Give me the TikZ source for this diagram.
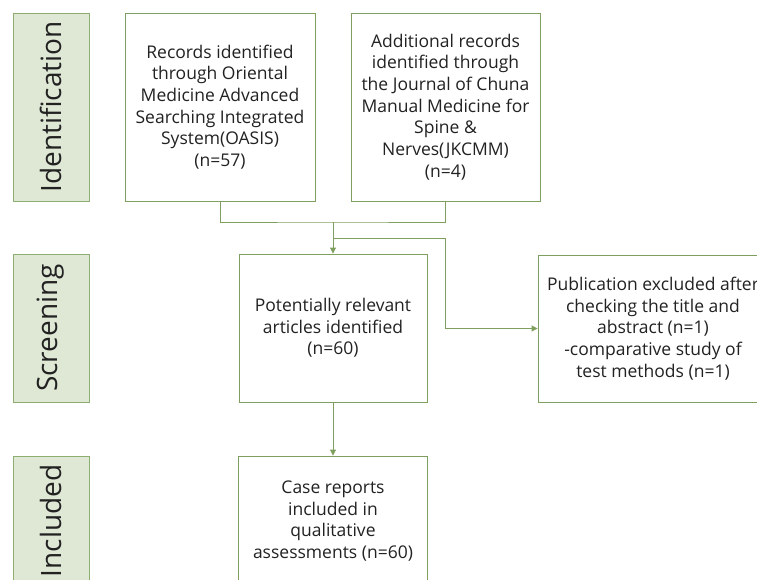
\documentclass[tikz,border=0pt]{standalone}
\usepackage{fontspec}
\setmainfont{Open Sans}
\usetikzlibrary{arrows.meta}
\definecolor{edge}{HTML}{7E9F5E}
\definecolor{sidefill}{HTML}{DFE8D5}
\definecolor{sideedge}{HTML}{8DAE70}
\definecolor{txt}{HTML}{222222}
\tikzset{
  flowbox/.style={draw=edge, line width=0.9pt, fill=white, align=center, text=txt,
    font=\fontsize{17.5}{21.7}\selectfont, inner sep=0pt},
  sidebox/.style={draw=sideedge, line width=0.9pt, fill=sidefill},
  sidetext/.style={rotate=90, text=txt, font=\fontsize{28}{30}\selectfont, inner sep=0pt},
  conn/.style={draw=edge, line width=0.9pt},
  tip/.style={-{Triangle[width=6pt,length=6pt]}}
}
\begin{document}
\begin{tikzpicture}[x=1pt,y=-1pt]
\useasboundingbox (0,0) rectangle (757,580);
\clip (0,0) rectangle (757,580);
\fill[white] (0,0) rectangle (757,580);
% side labels
\node[sidebox, minimum width=76pt, minimum height=188pt] (s1) at (51,107) {};
\node[sidetext] (t1) at (s1.center) {Identification};
\node[sidebox, minimum width=76pt, minimum height=148pt] (s2) at (51,328) {};
\node[sidetext] (t2) at (s2.center) {Screening};
\node[sidebox, minimum width=76pt, minimum height=130pt] (s3) at (51,521) {};
\node[sidetext] (t3) at (s3.center) {Included};
% flow boxes
\node[flowbox, minimum width=190pt, minimum height=188pt] (b1) at (220,107)
  {Records identified\\through Oriental\\Medicine Advanced\\Searching Integrated\\System(OASIS)\\(n=57)};
\node[flowbox, minimum width=189pt, minimum height=188pt] (b2) at (445.5,107)
  {Additional records\\identified through\\the Journal of Chuna\\Manual Medicine for\\Spine \&\\Nerves(JKCMM)\\(n=4)};
\node[flowbox, minimum width=188pt, minimum height=148pt] (b3) at (333,328)
  {Potentially relevant\\articles identified\\(n=60)};
\node[flowbox, minimum width=230pt, minimum height=147pt] (b4) at (653,328.5)
  {Publication excluded after\\checking the title and\\abstract (n=1)\\-comparative study of\\test methods (n=1)};
\node[flowbox, minimum width=189pt, minimum height=130pt] (b5) at (333,521)
  {Case reports\\included in\\qualitative\\assessments (n=60)};
% connectors
\coordinate (j) at (333,222);
\coordinate (k) at (333,238);
\coordinate (kr) at (445,238);
\draw[conn] (b1.south) |- (j) -| (b2.south);
\draw[conn, tip] (j) -- (b3.north);
\draw[conn, tip] (k) -- (kr) |- (b4.west);
\draw[conn, tip] (b3.south) -- (b5.north);
\end{tikzpicture}
\end{document}
